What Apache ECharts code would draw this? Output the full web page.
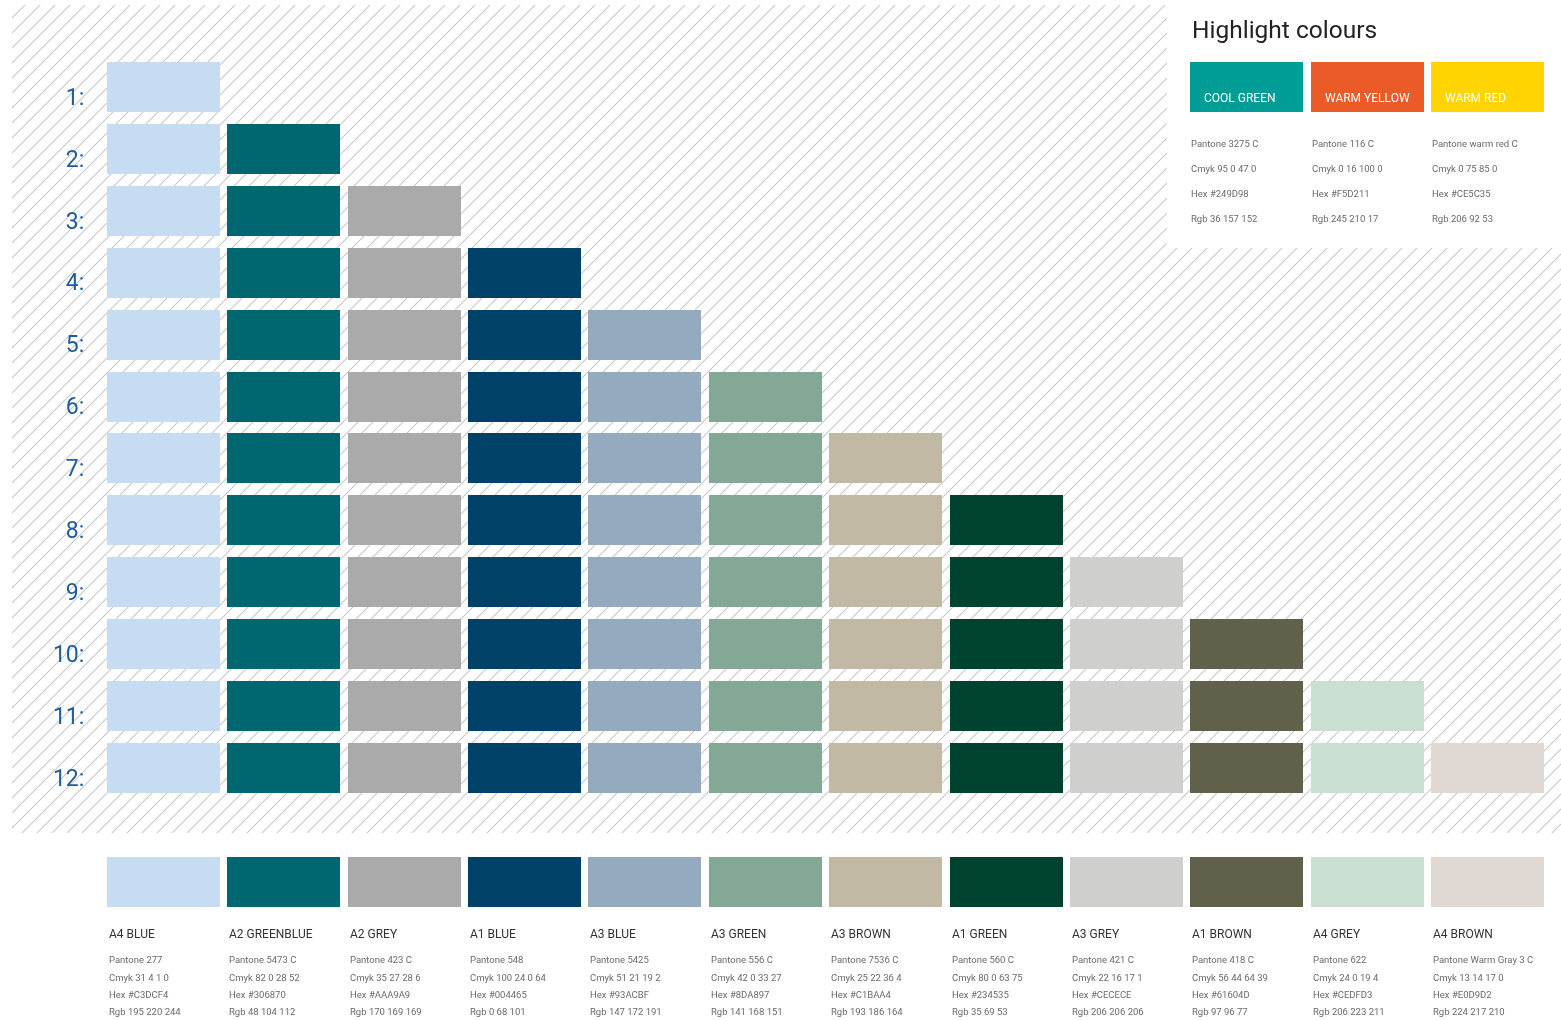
<!DOCTYPE html>
<html>
<head>
<meta charset="utf-8">
<title>Colour palette</title>
<script src="https://cdn.jsdelivr.net/npm/echarts@6/dist/echarts.min.js"></script>
<style>
  html, body { margin: 0; padding: 0; background: #fff; }
  #chart { width: 1561px; height: 1020px; }
</style>
</head>
<body>
<div id="chart"></div>
<script>
// row labels (how many colours a layout uses)
const rowLabels = ['1:', '2:', '3:', '4:', '5:', '6:', '7:', '8:', '9:', '10:', '11:', '12:'];

// palette colours, in the order they are added
const colourNames = ['A4 BLUE', 'A2 GREENBLUE', 'A2 GREY', 'A1 BLUE', 'A3 BLUE', 'A3 GREEN',
  'A3 BROWN', 'A1 GREEN', 'A3 GREY', 'A1 BROWN', 'A4 GREY', 'A4 BROWN'];
const colourPantone = ['Pantone 277', 'Pantone 5473 C', 'Pantone 423 C', 'Pantone 548', 'Pantone 5425',
  'Pantone 556 C', 'Pantone 7536 C', 'Pantone 560 C', 'Pantone 421 C', 'Pantone 418 C', 'Pantone 622',
  'Pantone Warm Gray 3 C'];
const colourCmyk = ['Cmyk 31 4 1 0', 'Cmyk 82 0 28 52', 'Cmyk 35 27 28 6', 'Cmyk 100 24 0 64',
  'Cmyk 51 21 19 2', 'Cmyk 42 0 33 27', 'Cmyk 25 22 36 4', 'Cmyk 80 0 63 75', 'Cmyk 22 16 17 1',
  'Cmyk 56 44 64 39', 'Cmyk 24 0 19 4', 'Cmyk 13 14 17 0'];
const colourHex = ['Hex #C3DCF4', 'Hex #306870', 'Hex #AAA9A9', 'Hex #004465', 'Hex #93ACBF',
  'Hex #8DA897', 'Hex #C1BAA4', 'Hex #234535', 'Hex #CECECE', 'Hex #61604D', 'Hex #CEDFD3', 'Hex #E0D9D2'];
const colourRgb = ['Rgb 195 220 244', 'Rgb 48 104 112', 'Rgb 170 169 169', 'Rgb 0 68 101',
  'Rgb 147 172 191', 'Rgb 141 168 151', 'Rgb 193 186 164', 'Rgb 35 69 53', 'Rgb 206 206 206',
  'Rgb 97 96 77', 'Rgb 206 223 211', 'Rgb 224 217 210'];

// highlight colours
const highlightNames = ['COOL GREEN', 'WARM YELLOW', 'WARM RED'];
const highlightPantone = ['Pantone 3275 C', 'Pantone 116 C', 'Pantone warm red C'];
const highlightCmyk = ['Cmyk 95 0 47 0', 'Cmyk 0 16 100 0', 'Cmyk 0 75 85 0'];
const highlightHex = ['Hex #249D98', 'Hex #F5D211', 'Hex #CE5C35'];
const highlightRgb = ['Rgb 36 157 152', 'Rgb 245 210 17', 'Rgb 206 92 53'];

// fill colours as seen on screen
const swatchFill = ['#C5DCF3', '#00666F', '#AAAAAA', '#004267', '#94ABBF', '#83A996',
  '#C1B9A3', '#004230', '#CFCFCD', '#61604B', '#C8DFD2', '#E0D8D2'];
const highlightFill = ['#009C96', '#EB5B28', '#FFD400'];

const FONT = 'Roboto';

// hatch tile
const tile = document.createElement('canvas');
tile.width = 15; tile.height = 15;
const tctx = tile.getContext('2d');
tctx.strokeStyle = '#c8c8c8';
tctx.lineWidth = 1.1;
tctx.beginPath();
tctx.moveTo(-2, 17); tctx.lineTo(17, -2);
tctx.moveTo(-2, 2); tctx.lineTo(2, -2);
tctx.moveTo(13, 17); tctx.lineTo(17, 13);
tctx.stroke();

// triangle: row n shows the first n colours
const cells = [];
rowLabels.forEach((lab, r) => {
  for (let c = 0; c <= r; c++) cells.push([c, r]);
});

const swatchRow = colourNames.map((n, i) => [i, 0]);
const firstHighlightCol = colourNames.length - highlightNames.length;
const highlightCells = highlightNames.map((n, i) => [firstHighlightCol + i, 0, i]);

const chart = echarts.init(document.getElementById('chart'));

const option = {
  backgroundColor: '#fff',
  animation: false,
  graphic: [
    { type: 'rect', z: -10, shape: { x: 12, y: 5, width: 1549, height: 828 },
      style: { fill: { image: tile, repeat: 'repeat' } }, silent: true },
    { type: 'rect', z: -9, shape: { x: 1167, y: 0, width: 394, height: 248 },
      style: { fill: '#fff' }, silent: true },
    { type: 'text', z: -8, x: 1192, y: 32,
      style: { text: 'Highlight colours', fill: '#222', font: '24.5px ' + FONT, textVerticalAlign: 'middle' } }
  ],
  grid: [
    { left: 103.3, top: 56, width: 1444.4, height: 743 },
    { left: 103.3, top: 857, width: 1444.4, height: 50 }
  ],
  xAxis: [
    { type: 'category', gridIndex: 0, data: colourNames, show: false },
    { type: 'category', gridIndex: 1, data: colourNames, show: false }
  ],
  yAxis: [
    {
      type: 'category', gridIndex: 0, data: rowLabels, inverse: true,
      axisLine: { show: false }, axisTick: { show: false }, splitLine: { show: false },
      axisLabel: {
        color: '#1f5d9a', fontSize: 23, fontFamily: FONT, margin: 19,
        verticalAlign: 'top', lineHeight: 24
      }
    },
    { type: 'category', gridIndex: 1, data: [''], show: false }
  ],
  series: [
    {
      type: 'custom',
      xAxisIndex: 0, yAxisIndex: 0,
      data: cells,
      renderItem: function (params, api) {
        const c = api.value(0), r = api.value(1);
        const p = api.coord([c, r]);
        const s = api.size([1, 1]);
        const w = s[0] - 7.4, h = s[1] - 11.9;
        return {
          type: 'rect',
          shape: { x: Math.round(p[0] - w / 2), y: Math.round(p[1] - h / 2), width: Math.round(w), height: Math.round(h) },
          style: { fill: swatchFill[c] }
        };
      }
    },
    {
      type: 'custom',
      xAxisIndex: 0, yAxisIndex: 0,
      data: highlightCells,
      renderItem: function (params, api) {
        const c = api.value(0), i = api.value(2);
        const p = api.coord([c, 0]);
        const s = api.size([1, 1]);
        const w = s[0] - 7.4, h = s[1] - 11.9;
        const x = Math.round(p[0] - w / 2), y = Math.round(p[1] - h / 2);
        const txt = (t, dx, dy, size, color) => ({
          type: 'text', x: x + dx, y: y + dy,
          style: { text: t, fill: color, font: size + 'px ' + FONT, textVerticalAlign: 'middle' }
        });
        return {
          type: 'group',
          children: [
            { type: 'rect', shape: { x: x, y: y, width: Math.round(w), height: Math.round(h) }, style: { fill: highlightFill[i] } },
            txt(highlightNames[i], 14, 37, 12, '#fff'),
            txt(highlightPantone[i], 1, 83, 9.5, '#6a6a6a'),
            txt(highlightCmyk[i], 1, 108, 9.5, '#6a6a6a'),
            txt(highlightHex[i], 1, 133, 9.5, '#6a6a6a'),
            txt(highlightRgb[i], 1, 158, 9.5, '#6a6a6a')
          ]
        };
      }
    },
    {
      type: 'custom',
      xAxisIndex: 1, yAxisIndex: 1,
      data: swatchRow,
      renderItem: function (params, api) {
        const c = api.value(0);
        const p = api.coord([c, 0]);
        const s = api.size([1, 1]);
        const w = s[0] - 7.4, h = s[1];
        const x = Math.round(p[0] - w / 2), y = Math.round(p[1] - h / 2);
        const txt = (t, dy, size, color) => ({
          type: 'text', x: x + 2, y: y + dy,
          style: { text: t, fill: color, font: size + 'px ' + FONT, textVerticalAlign: 'middle' }
        });
        return {
          type: 'group',
          children: [
            { type: 'rect', shape: { x: x, y: y, width: Math.round(w), height: Math.round(h) }, style: { fill: swatchFill[c] } },
            txt(colourNames[c], 78, 12, '#333'),
            txt(colourPantone[c], 104, 9.5, '#6a6a6a'),
            txt(colourCmyk[c], 121.5, 9.5, '#6a6a6a'),
            txt(colourHex[c], 139, 9.5, '#6a6a6a'),
            txt(colourRgb[c], 156, 9.5, '#6a6a6a')
          ]
        };
      }
    }
  ]
};

chart.setOption(option);
</script>
</body>
</html>
